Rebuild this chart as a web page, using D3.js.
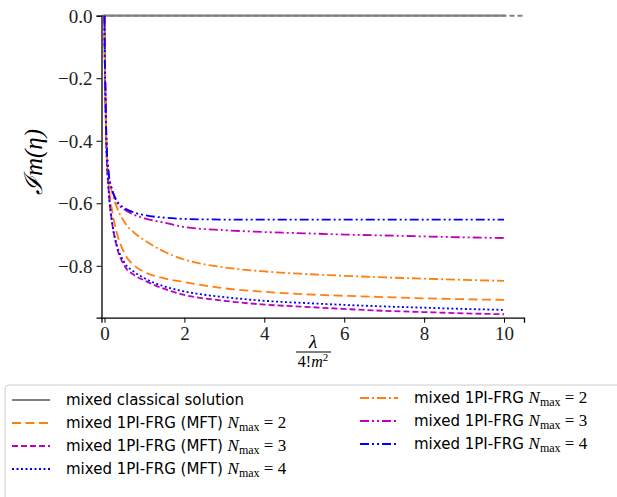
<!DOCTYPE html>
<html>
<head>
<meta charset="utf-8">
<script src="https://d3js.org/d3.v7.min.js"></script>
<style>
  body { margin: 0; background: #fff; }
  svg { display: block; }
</style>
</head>
<body>
<script>
  // lambda / 4!m^2 sample points
  var lambdas = [0, 0.005, 0.02, 0.05, 0.1, 0.2, 0.3, 0.5, 0.75, 1, 1.5, 2, 3, 4, 5, 6, 7, 8, 9, 10];

  var classicalX = [0, 10];
  var classicalY = [0, 0];

  var mftN2 = [0, -0.10, -0.23, -0.42, -0.53, -0.63, -0.69, -0.76, -0.80, -0.82, -0.84, -0.852, -0.872, -0.883, -0.891, -0.896, -0.900, -0.904, -0.907, -0.909];
  var mftN3 = [0, -0.10, -0.24, -0.43, -0.55, -0.67, -0.735, -0.80, -0.83, -0.847, -0.874, -0.893, -0.912, -0.924, -0.931, -0.938, -0.944, -0.948, -0.952, -0.955];
  var mftN4 = [0, -0.10, -0.24, -0.43, -0.55, -0.67, -0.73, -0.79, -0.82, -0.84, -0.866, -0.882, -0.900, -0.912, -0.919, -0.925, -0.930, -0.934, -0.938, -0.941];
  var frgN2 = [0, -0.10, -0.22, -0.40, -0.50, -0.57, -0.61, -0.66, -0.695, -0.718, -0.755, -0.780, -0.805, -0.818, -0.826, -0.832, -0.837, -0.841, -0.845, -0.848];
  var frgN3 = [0, -0.10, -0.22, -0.40, -0.50, -0.56, -0.595, -0.62, -0.637, -0.648, -0.662, -0.676, -0.686, -0.692, -0.696, -0.700, -0.703, -0.706, -0.709, -0.711];
  var frgN4 = [0, -0.10, -0.22, -0.40, -0.50, -0.56, -0.59, -0.615, -0.630, -0.638, -0.646, -0.650, -0.652, -0.652, -0.652, -0.652, -0.652, -0.652, -0.652, -0.652];

  var xTicks = [0, 2, 4, 6, 8, 10];
  var yTicks = [0, -0.2, -0.4, -0.6, -0.8];

  var width = 617, height = 497;
  var svg = d3.select("body").append("svg")
              .attr("width", width)
              .attr("height", height);

  var x = d3.scaleLinear().domain([-0.075, 10.5]).range([101.5, 524]);
  var y = d3.scaleLinear().domain([-0.966, 0]).range([317.7, 15.7]);

  var serif = "'Liberation Serif', 'DejaVu Serif', serif";
  var sans = "'DejaVu Sans', sans-serif";

  var series = [
    {name: "mixed 1PI-FRG (MFT)", n: 2, vals: mftN2, color: "#ff7f0e", dash: "9,4.5", col: 0, row: 1},
    {name: "mixed 1PI-FRG (MFT)", n: 3, vals: mftN3, color: "#bf00bf", dash: "6,3", col: 0, row: 2},
    {name: "mixed 1PI-FRG (MFT)", n: 4, vals: mftN4, color: "#0000ff", dash: "2,2.5", col: 0, row: 3},
    {name: "mixed 1PI-FRG", n: 2, vals: frgN2, color: "#ff7f0e", dash: "9,3,2,3", col: 1, row: 0},
    {name: "mixed 1PI-FRG", n: 3, vals: frgN3, color: "#bf00bf", dash: "9,3,2,3,2,3", col: 1, row: 1},
    {name: "mixed 1PI-FRG", n: 4, vals: frgN4, color: "#0000ff", dash: "9,3,2,3,2,3", col: 1, row: 2}
  ];

  // dashed reference line at zero, then the classical solution on top
  svg.append("line")
     .attr("x1", x(-0.075)).attr("x2", x(10.5))
     .attr("y1", y(0)).attr("y2", y(0))
     .attr("stroke", "#808080").attr("stroke-width", 2)
     .attr("stroke-dasharray", "5,3");

  var line = d3.line()
               .x(function(d){ return x(d[0]); })
               .y(function(d){ return y(d[1]); })
               .curve(d3.curveMonotoneX);

  svg.append("path")
     .attr("d", line(classicalX.map(function(v, i){ return [v, classicalY[i]]; })))
     .attr("fill", "none").attr("stroke", "#808080").attr("stroke-width", 2.2)
     .attr("stroke-linecap", "square");

  series.forEach(function(s){
    svg.append("path")
       .attr("d", line(lambdas.map(function(v, i){ return [v, s.vals[i]]; })))
       .attr("fill", "none")
       .attr("stroke", s.color)
       .attr("stroke-width", 1.8)
       .attr("stroke-dasharray", s.dash);
  });

  // axes (only left and bottom spines)
  var xAxis = svg.append("g")
                 .attr("transform", "translate(0," + 317.7 + ")")
                 .call(d3.axisBottom(x).tickValues(xTicks).tickSize(5).tickPadding(4)
                         .tickFormat(d3.format("d")));
  var yAxis = svg.append("g")
                 .attr("transform", "translate(" + 101.5 + ",0)")
                 .call(d3.axisLeft(y).tickValues(yTicks).tickSize(5).tickPadding(4)
                         .tickFormat(function(d){ return d3.format(".1f")(d).replace("-", "\u2212"); }));

  [xAxis, yAxis].forEach(function(g){
    g.select(".domain").attr("stroke", "#000").attr("stroke-width", 1.3);
    g.selectAll(".tick line").attr("stroke", "#000").attr("stroke-width", 1);
    g.selectAll(".tick text").attr("font-family", serif).attr("font-size", 19).attr("fill", "#222");
  });
  yAxis.selectAll(".tick text").attr("dy", "0.34em");

  // y label: Im(eta)
  svg.append("text")
     .attr("transform", "translate(42,162) rotate(-90)")
     .attr("text-anchor", "middle")
     .attr("font-family", serif).attr("font-size", 25).attr("font-style", "italic")
     .text("\u2110m(\u03B7)");

  // x label: lambda / 4!m^2
  svg.append("text")
     .attr("x", 313).attr("y", 348)
     .attr("text-anchor", "middle")
     .attr("font-family", serif).attr("font-size", 19).attr("font-style", "italic")
     .text("\u03BB");
  svg.append("line")
     .attr("x1", 296).attr("x2", 331).attr("y1", 352).attr("y2", 352)
     .attr("stroke", "#000").attr("stroke-width", 1);
  var den = svg.append("text")
     .attr("x", 313).attr("y", 367)
     .attr("text-anchor", "middle")
     .attr("font-family", serif).attr("font-size", 16);
  den.append("tspan").text("4!");
  den.append("tspan").attr("font-style", "italic").text("m");
  den.append("tspan").attr("font-size", 11).attr("dy", -6).text("2");

  // legend
  var leg = svg.append("g");
  leg.append("rect")
     .attr("x", 5).attr("y", 385).attr("width", 630).attr("height", 130).attr("rx", 4)
     .attr("fill", "#fff").attr("stroke", "#cccccc").attr("stroke-width", 1);

  var rowY = function(r){ return 400 + r * 23; };
  var colX = [12, 360];

  function legendLabel(g, tx, ty, s){
    var t = g.append("text").attr("x", tx).attr("y", ty).attr("dy", "0.35em")
             .attr("font-family", sans).attr("font-size", 15).attr("fill", "#000");
    t.append("tspan").text(s.name + " ");
    if (s.n !== undefined) {
      t.append("tspan").attr("font-family", serif).attr("font-style", "italic").attr("font-size", 17).text("N");
      t.append("tspan").attr("font-family", serif).attr("font-size", 12).attr("dy", 3).text("max");
      t.append("tspan").attr("font-family", serif).attr("font-size", 17).attr("dy", -3).text(" = " + s.n);
    }
  }

  // classical row
  leg.append("line")
     .attr("x1", colX[0]).attr("x2", colX[0] + 38).attr("y1", rowY(0)).attr("y2", rowY(0))
     .attr("stroke", "#808080").attr("stroke-width", 2);
  legendLabel(leg, colX[0] + 54, rowY(0), {name: "mixed classical solution"});

  series.forEach(function(s){
    var lx = colX[s.col], ly = rowY(s.row) - (s.col === 1 ? 2 : 0);
    leg.append("line")
       .attr("x1", lx).attr("x2", lx + 38).attr("y1", ly).attr("y2", ly)
       .attr("stroke", s.color).attr("stroke-width", 1.8)
       .attr("stroke-dasharray", s.dash);
    legendLabel(leg, lx + 54, ly, s);
  });
</script>
</body>
</html>
